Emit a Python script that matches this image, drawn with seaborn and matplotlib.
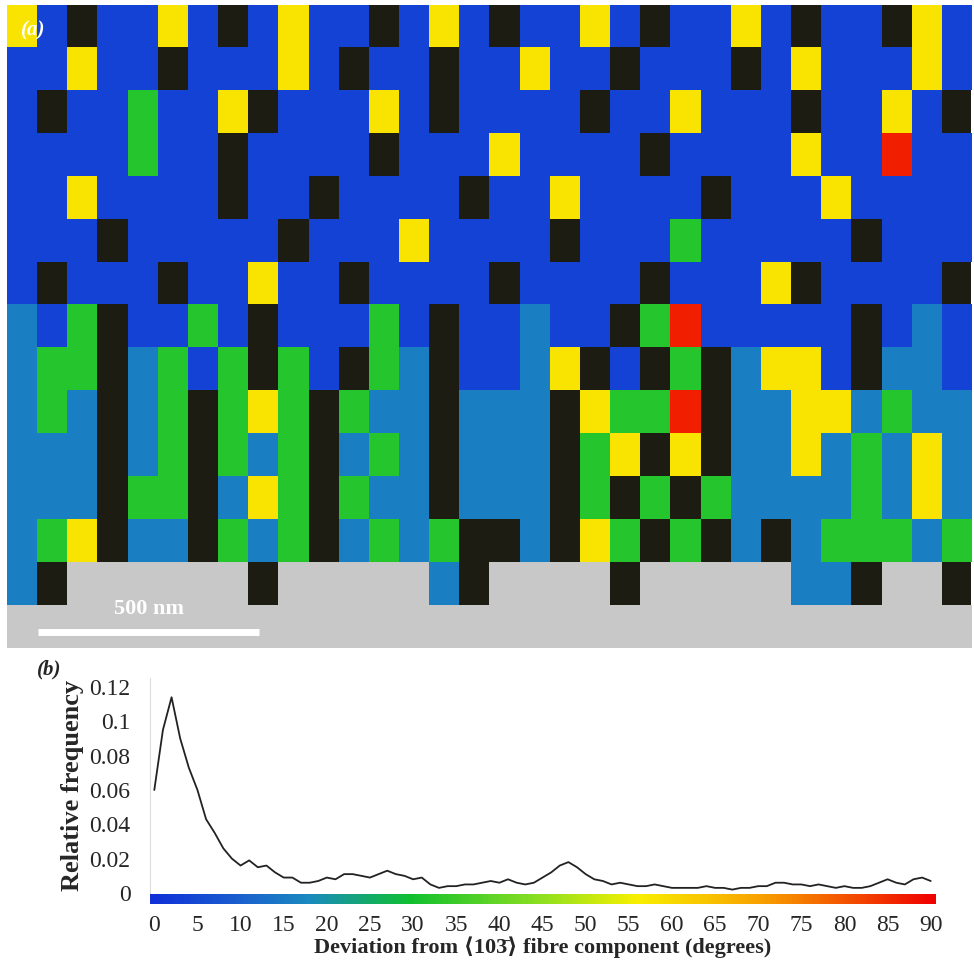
import numpy as np
import matplotlib
matplotlib.use('Agg')
import matplotlib.pyplot as plt
from matplotlib.colors import LinearSegmentedColormap, ListedColormap
import seaborn as sns

sns.set_style('white')
plt.rcParams['font.family'] = ['Liberation Serif', 'DejaVu Sans']

# (b) deviation profile
deviation_deg = list(range(0, 91))
rel_freq = [0.060, 0.095, 0.114, 0.090, 0.073, 0.060, 0.043, 0.035, 0.026, 0.020,
            0.016, 0.019, 0.015, 0.016, 0.012, 0.009, 0.009, 0.006, 0.006, 0.007,
            0.009, 0.008, 0.011, 0.011, 0.010, 0.009, 0.011, 0.013, 0.011, 0.010,
            0.008, 0.009, 0.005, 0.003, 0.004, 0.004, 0.005, 0.005, 0.006, 0.007,
            0.006, 0.008, 0.006, 0.005, 0.006, 0.009, 0.012, 0.016, 0.018, 0.015,
            0.011, 0.008, 0.007, 0.005, 0.006, 0.005, 0.004, 0.004, 0.005, 0.004,
            0.003, 0.003, 0.003, 0.003, 0.004, 0.003, 0.003, 0.002, 0.003, 0.003,
            0.004, 0.004, 0.006, 0.006, 0.005, 0.005, 0.004, 0.005, 0.004, 0.003,
            0.004, 0.003, 0.003, 0.004, 0.006, 0.008, 0.006, 0.005, 0.008, 0.009,
            0.007]
x_ticks = list(range(0, 95, 5))
y_ticks = [0, 0.02, 0.04, 0.06, 0.08, 0.1, 0.12]
y_tick_labels = ['0', '0.02', '0.04', '0.06', '0.08', '0.1', '0.12']

# (a) coarse orientation map: b=blue, c=light blue, g=green, y=yellow, r=red, k=boundary, s=substrate
grain_rows = [
    "ybkbbybkbybbkbybkbbybkbbybkbbkyb",
    "bbybbkbbbybkbbkbbybbkbbbkbybbbyb",
    "bkbbgbbykbbbybkbbbbkbbybbbkbbybk",
    "bbbbgbbkbbbbkbbbybbbbkbbbbybbrbb",
    "bbybbbbkbbkbbbbkbbybbbbkbbbybbbb",
    "bbbkbbbbbkbbbybbbbkbbbgbbbbbkbbb",
    "bkbbbkbbybbkbbbbkbbbbkbbbykbbbbk",
    "cbgkbbgbkbbbgbkbbcbbkgrbbbbbkbcb",
    "cggkcgbgkgbkgckbbcykbkgkcyybkccb",
    "cgckcgkgygkgcckccckyggrkccyycgcc",
    "ccckcgkgcgkcgckccckgykykccycgcyc",
    "ccckggkcygkgcckccckgkgkgccccgcyc",
    "cgykcckgcgkcgcgkkckygkgkckcgggcg",
    "cksssssskssssscksssskssssscckssk",
    "ssssssssssssssssssssssssssssssss",
]
code_value = {'b': 4, 'c': 16, 'g': 32, 'y': 58, 'r': 86, 'k': np.nan, 's': np.nan}

grid = np.array([[code_value[ch] for ch in row] for row in grain_rows], dtype=float)
substrate = np.array([[1.0 if ch == 's' else np.nan for ch in row] for row in grain_rows])

fibre_cmap = LinearSegmentedColormap.from_list('fibre', [
    (0.0, '#1030d8'), (0.1, '#1a5ad0'), (0.2, '#1a8ac0'), (0.33, '#10c030'),
    (0.5, '#90e020'), (0.62, '#f8f000'), (0.78, '#f8a000'), (1.0, '#f00000')])

fig = plt.figure(figsize=(9.74, 9.67), dpi=100)

# --- (a) map
ax_map = fig.add_axes([0.007, 0.33, 0.99, 0.665])
ax_map.set_facecolor('#1c1c12')
ax_map.imshow(grid, cmap=fibre_cmap, vmin=0, vmax=90, aspect='auto', interpolation='nearest')
ax_map.imshow(substrate, cmap=ListedColormap(['#c8c8c8']), aspect='auto', interpolation='nearest')
ax_map.set_xticks([])
ax_map.set_yticks([])
for sp in ax_map.spines.values():
    sp.set_visible(False)
ax_map.text(0.015, 0.975, '(a)', transform=ax_map.transAxes, color='white',
            fontsize=15, fontweight='bold', style='italic', va='top')
ax_map.plot([0.032, 0.262], [0.025, 0.025], transform=ax_map.transAxes,
            color='white', lw=5, solid_capstyle='butt')
ax_map.text(0.147, 0.045, '500 nm', transform=ax_map.transAxes, color='white',
            fontsize=16, fontweight='bold', ha='center', va='bottom')

# --- (b) profile
ax = fig.add_axes([0.154, 0.0765, 0.806, 0.222])
sns.lineplot(x=deviation_deg, y=rel_freq, ax=ax, color='#222222', lw=1.3)
ax.set_xlim(-0.5, 90.5)
ax.set_ylim(0, 0.125)
ax.set_xticks([])
ax.set_yticks(y_ticks)
ax.set_yticklabels(y_tick_labels, fontsize=17)
ax.tick_params(axis='y', length=0, pad=14)
for side in ['top', 'right', 'bottom']:
    ax.spines[side].set_visible(False)
ax.spines['left'].set_color('#dddddd')
ax.set_ylabel('Relative frequency', fontsize=19, fontweight='bold', labelpad=4)
fig.text(0.038, 0.302, '(b)', fontsize=15, fontweight='bold', style='italic')

# colour key along x
ax_cb = fig.add_axes([0.154, 0.065, 0.806, 0.011])
ax_cb.imshow(np.linspace(0, 90, 256)[None, :], cmap=fibre_cmap, aspect='auto',
             extent=[-0.5, 90.5, 0, 1])
ax_cb.set_xlim(-0.5, 90.5)
ax_cb.set_yticks([])
ax_cb.set_xticks(x_ticks)
ax_cb.set_xticklabels([str(t) for t in x_ticks], fontsize=17)
ax_cb.tick_params(axis='x', length=0, pad=8)
for sp in ax_cb.spines.values():
    sp.set_visible(False)
ax_cb.set_xlabel('Deviation from \u27e8103\u0304\u27e9 fibre component (degrees)',
                 fontsize=16, fontweight='bold', labelpad=0)

fig.savefig('out.png', dpi=100)
